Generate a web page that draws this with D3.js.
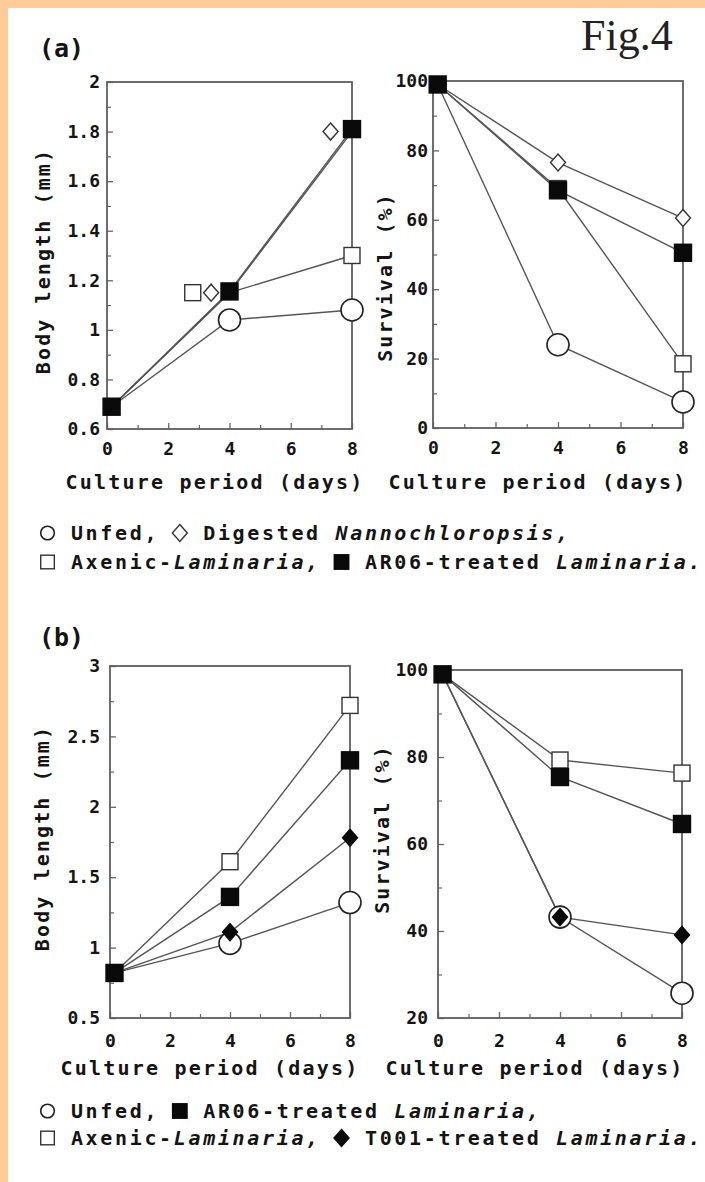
<!DOCTYPE html>
<html><head><meta charset="utf-8">
<script src="https://cdn.jsdelivr.net/npm/d3@7"></script>
<style>html,body{margin:0;padding:0;background:#fff}svg{display:block}</style>
</head><body>
<svg id="c" width="705" height="1182"></svg>
<script>
// ---------------- DATA ----------------
const days = [0.15, 4, 8];
const dayTicks = [0, 2, 4, 6, 8];
const dayMinor = [1, 3, 5, 7];

// (a) body length (mm)
const aBodyUnfed  = [0.69, 1.04, 1.08];
const aBodyNanno  = [0.69, 1.15, 1.80];
const aBodyAxenic = [0.69, 1.15, 1.30];
const aBodyAR06   = [0.69, 1.155, 1.81];
const aBodyNannoMarkerDays  = [0.15, 3.4, 7.3];
const aBodyAxenicMarkerDays = [0.15, 2.8, 8];
const aBodyTicks  = [0.6, 0.8, 1, 1.2, 1.4, 1.6, 1.8, 2];
const aBodyLabels = ["0.6", "0.8", "1", "1.2", "1.4", "1.6", "1.8", "2"];
const aBodyMinor  = [0.7, 0.9, 1.1, 1.3, 1.5, 1.7, 1.9];

// (a) survival (%)
const aSurvUnfed  = [99, 24, 7.5];
const aSurvNanno  = [99, 76.5, 60.5];
const aSurvAxenic = [99, 69, 18.5];
const aSurvAR06   = [99, 68.5, 50.5];
const aSurvTicks  = [0, 20, 40, 60, 80, 100];
const aSurvMinor  = [10, 30, 50, 70, 90];

// (b) body length (mm)
const bBodyUnfed  = [0.82, 1.03, 1.32];
const bBodyAR06   = [0.82, 1.36, 2.33];
const bBodyAxenic = [0.82, 1.61, 2.72];
const bBodyT001   = [0.82, 1.11, 1.78];
const bBodyTicks  = [0.5, 1, 1.5, 2, 2.5, 3];
const bBodyLabels = ["0.5", "1", "1.5", "2", "2.5", "3"];
const bBodyMinor  = [0.75, 1.25, 1.75, 2.25, 2.75];

// (b) survival (%)
const bSurvUnfed  = [99, 43.2, 25.7];
const bSurvAR06   = [99, 75.4, 64.6];
const bSurvAxenic = [99, 79.3, 76.3];
const bSurvT001   = [99, 43.2, 39.1];
const bSurvTicks  = [20, 40, 60, 80, 100];
const bSurvMinor  = [30, 50, 70, 90];

const xTitle = "Culture period (days)";
const yTitleBody = "Body length (mm)";
const yTitleSurv = "Survival (%)";

const legendA = [
  [{sym:"circle"}, {t:" Unfed, "}, {sym:"diamond"}, {t:" Digested "}, {t:"Nannochloropsis,", i:true}],
  [{sym:"square"}, {t:" Axenic-"}, {t:"Laminaria,", i:true}, {t:" "}, {sym:"squareFilled"}, {t:" AR06-treated "}, {t:"Laminaria.", i:true}]
];
const legendB = [
  [{sym:"circle"}, {t:" Unfed, "}, {sym:"squareFilled"}, {t:" AR06-treated "}, {t:"Laminaria,", i:true}],
  [{sym:"square"}, {t:" Axenic-"}, {t:"Laminaria,", i:true}, {t:" "}, {sym:"diamondFilled"}, {t:" T001-treated "}, {t:"Laminaria.", i:true}]
];

// ---------------- DRAW ----------------
const svg = d3.select("#c");
const MONO = "'DejaVu Sans Mono', monospace";
const INK = "#141414";

svg.append("rect").attr("width", 705).attr("height", 1182).attr("fill", "#fff");
svg.append("rect").attr("x", 0).attr("y", 0).attr("width", 705).attr("height", 8).attr("fill", "#FFCC99");
svg.append("rect").attr("x", 0).attr("y", 0).attr("width", 8).attr("height", 1182).attr("fill", "#FFCC99");

svg.append("text").attr("x", 581).attr("y", 50)
  .attr("font-family", "'Liberation Serif', 'Times New Roman', serif")
  .attr("font-size", 44).attr("fill", "#222").text("Fig.4");

svg.append("text").attr("x", 39).attr("y", 57).attr("font-family", MONO)
  .attr("font-weight", "bold").attr("font-size", 25).attr("fill", INK).text("(a)");
svg.append("text").attr("x", 39).attr("y", 646).attr("font-family", MONO)
  .attr("font-weight", "bold").attr("font-size", 25).attr("fill", INK).text("(b)");

function marker(g, type, cx, cy, s) {
  s = s || 1;
  if (type === "circle") {
    g.append("circle").attr("cx", cx).attr("cy", cy).attr("r", 11 * s)
      .attr("fill", "#fff").attr("stroke", "#222").attr("stroke-width", 1.6);
  } else if (type === "square" || type === "squareFilled") {
    const h = (type === "square" ? 8 : 8.5) * s;
    g.append("rect").attr("x", cx - h).attr("y", cy - h).attr("width", 2 * h).attr("height", 2 * h)
      .attr("fill", type === "square" ? "#fff" : "#0a0a0a")
      .attr("stroke", type === "square" ? "#333" : "#0a0a0a").attr("stroke-width", 1.4);
  } else {
    const hw = 7.5 * s, hh = 8.5 * s;
    const p = d3.path();
    p.moveTo(cx, cy - hh); p.lineTo(cx + hw, cy); p.lineTo(cx, cy + hh); p.lineTo(cx - hw, cy); p.closePath();
    g.append("path").attr("d", p.toString())
      .attr("fill", type === "diamond" ? "#fff" : "#0a0a0a")
      .attr("stroke", type === "diamond" ? "#333" : "#0a0a0a").attr("stroke-width", 1.4);
  }
}

function panel(o) {
  const g = svg.append("g");
  const x = d3.scaleLinear().domain([0, 8]).range([o.x0, o.x1]);
  const y = d3.scaleLinear().domain(o.ydom).range([o.y1, o.y0]);

  // minor ticks
  g.append("g").attr("transform", `translate(0,${o.y1})`)
    .call(d3.axisBottom(x).tickValues(dayMinor).tickSizeInner(-4).tickSizeOuter(0).tickFormat(""))
    .call(a => a.select(".domain").remove())
    .selectAll("line").attr("stroke", "#666").attr("stroke-width", 1.2);
  g.append("g").attr("transform", `translate(${o.x0},0)`)
    .call(d3.axisLeft(y).tickValues(o.yminor).tickSizeInner(-4).tickSizeOuter(0).tickFormat(""))
    .call(a => a.select(".domain").remove())
    .selectAll("line").attr("stroke", "#666").attr("stroke-width", 1.2);

  // major ticks + labels
  const xa = g.append("g").attr("transform", `translate(0,${o.y1})`)
    .call(d3.axisBottom(x).tickValues(dayTicks).tickSizeInner(-6).tickSizeOuter(0).tickPadding(o.xpad));
  const ya = g.append("g").attr("transform", `translate(${o.x0},0)`)
    .call(d3.axisLeft(y).tickValues(o.yticks).tickSizeInner(-6).tickSizeOuter(0).tickPadding(o.ypad)
      .tickFormat((d, i) => o.ylabels ? o.ylabels[i] : String(d)));
  [xa, ya].forEach(a => {
    a.select(".domain").remove();
    a.selectAll("line").attr("stroke", "#666").attr("stroke-width", 1.3);
    a.selectAll("text").attr("font-family", MONO).attr("font-weight", "bold")
      .attr("font-size", 18).attr("fill", INK);
  });

  // frame
  g.append("rect").attr("x", o.x0).attr("y", o.y0).attr("width", o.x1 - o.x0).attr("height", o.y1 - o.y0)
    .attr("fill", "none").attr("stroke", "#5e5e5e").attr("stroke-width", 1.8);

  // lines
  const line = d3.line().x(d => x(d[0])).y(d => y(d[1]));
  o.series.forEach(s => {
    g.append("path").attr("d", line(days.map((d, i) => [d, s.v[i]])))
      .attr("fill", "none").attr("stroke", "#555").attr("stroke-width", 1.4);
  });
  // markers (start point is shared; only the top-most filled square shows there)
  o.series.forEach(s => {
    const md = s.md || days;
    s.v.forEach((v, i) => {
      if (i === 0 && !s.start) return;
      marker(g, s.type, x(md[i]), y(v));
    });
  });

  // titles
  const tx = o.xtitle;
  g.append("text").attr("x", tx[0]).attr("y", tx[1]).attr("text-anchor", "middle")
    .attr("dominant-baseline", "central")
    .attr("font-family", MONO).attr("font-weight", "bold").attr("font-size", 20)
    .attr("letter-spacing", 2.2).attr("fill", INK).text(xTitle);
  const ty = o.ytitle;
  g.append("text").attr("transform", `translate(${ty[0]},${ty[1]}) rotate(-90)`)
    .attr("text-anchor", "middle").attr("dominant-baseline", "central")
    .attr("font-family", MONO).attr("font-weight", "bold").attr("font-size", 20)
    .attr("letter-spacing", 2.1).attr("fill", INK).text(o.ytext);
}

panel({
  x0: 107, x1: 352, y0: 82, y1: 429, ydom: [0.6, 2],
  yticks: aBodyTicks, ylabels: aBodyLabels, yminor: aBodyMinor, xpad: 13, ypad: 7,
  xtitle: [215, 482], ytitle: [43, 261], ytext: yTitleBody,
  series: [
    {v: aBodyUnfed, type: "circle"},
    {v: aBodyAxenic, type: "square", md: aBodyAxenicMarkerDays},
    {v: aBodyNanno, type: "diamond", md: aBodyNannoMarkerDays},
    {v: aBodyAR06, type: "squareFilled", start: true}
  ]
});
panel({
  x0: 433, x1: 683, y0: 81, y1: 428, ydom: [0, 100],
  yticks: aSurvTicks, yminor: aSurvMinor, xpad: 13, ypad: 5,
  xtitle: [538, 482], ytitle: [385, 277], ytext: yTitleSurv,
  series: [
    {v: aSurvUnfed, type: "circle"},
    {v: aSurvAxenic, type: "square"},
    {v: aSurvNanno, type: "diamond"},
    {v: aSurvAR06, type: "squareFilled", start: true}
  ]
});
panel({
  x0: 110, x1: 350, y0: 666, y1: 1018, ydom: [0.5, 3],
  yticks: bBodyTicks, ylabels: bBodyLabels, yminor: bBodyMinor, xpad: 16, ypad: 10,
  xtitle: [210, 1068], ytitle: [42, 838], ytext: yTitleBody,
  series: [
    {v: bBodyUnfed, type: "circle"},
    {v: bBodyAxenic, type: "square"},
    {v: bBodyT001, type: "diamondFilled"},
    {v: bBodyAR06, type: "squareFilled", start: true}
  ]
});
panel({
  x0: 438, x1: 682, y0: 670, y1: 1018, ydom: [20, 100],
  yticks: bSurvTicks, yminor: bSurvMinor, xpad: 16, ypad: 10,
  xtitle: [535, 1068], ytitle: [382, 829], ytext: yTitleSurv,
  series: [
    {v: bSurvUnfed, type: "circle"},
    {v: bSurvAxenic, type: "square"},
    {v: bSurvAR06, type: "squareFilled", start: true},
    {v: bSurvT001, type: "diamondFilled"}
  ]
});

// legends (monospace layout)
const LFS = 20, LLS = 2.66, CH = 12.04, ADV = CH + LLS;
function legend(lines, x0, baselines) {
  lines.forEach((items, li) => {
    const yb = baselines[li];
    const txt = svg.append("text").attr("x", x0).attr("y", yb)
      .attr("font-family", MONO).attr("font-weight", "bold").attr("font-size", LFS)
      .attr("letter-spacing", LLS).attr("fill", INK).attr("xml:space", "preserve")
      .style("white-space", "pre");
    let slot = 0;
    items.forEach(it => {
      if (it.sym) {
        const cx = x0 + slot * ADV + CH / 2;
        const cy = yb - 7;
        const s = it.sym === "circle" ? 0.62 : (it.sym.startsWith("diamond") ? 1.0 : 0.85);
        marker(svg, it.sym, cx, cy, s);
        txt.append("tspan").text(" ");
        slot += 1;
      } else {
        txt.append("tspan").attr("font-style", it.i ? "italic" : null).text(it.t);
        slot += it.t.length;
      }
    });
  });
}
legend(legendA, 41.5, [540, 569]);
legend(legendB, 41.5, [1118, 1145]);
</script>
</body></html>
